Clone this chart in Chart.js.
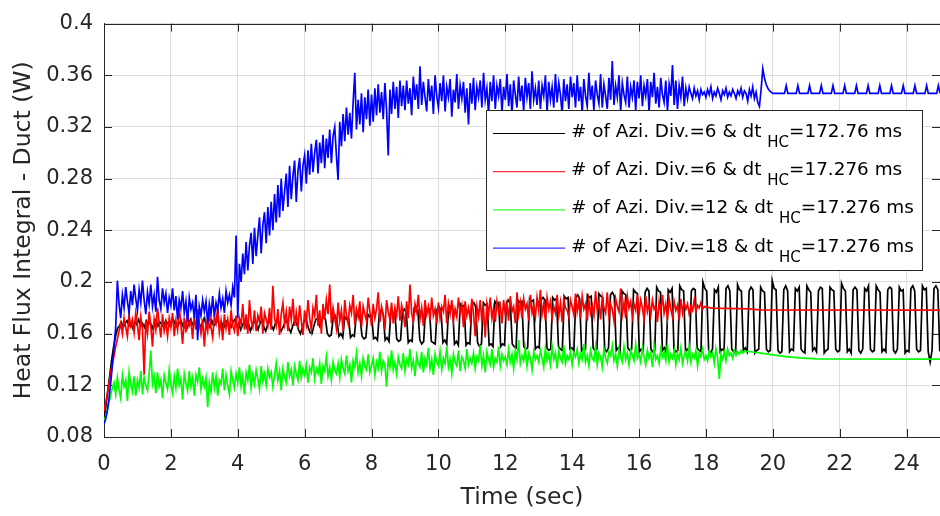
<!DOCTYPE html>
<html>
<head>
<meta charset="utf-8">
<script src="https://cdn.jsdelivr.net/npm/chart.js@4/dist/chart.umd.min.js"></script>
<style>
  html, body { margin: 0; padding: 0; background: #fff; }
  canvas { display: block; }
</style>
</head>
<body>
<canvas id="flux" width="940" height="516"></canvas>
<script>
// Sampling intervals of the recorded signals (s)
const stepCoarseHC = 0.0575867;  // one third of the 172.76 ms coupling interval
const stepFineHC = 0.05;

// Heat flux integral on the duct (W), 6 azimuthal divisions, dt_HC = 172.76 ms
const fluxDiv6Coarse = [
  .093,.104,.116,.128,.140,.150,.158,.164,
  .166,.169,.165,.168,.170,.166,.168,.164,.169,.167,
  .171,.166,.168,.165,.170,.167,.169,.164,.168,.171,
  .166,.169,.167,.165,.170,.168,.166,.169,.171,.167,
  .165,.168,.170,.166,.169,.164,.168,.171,.167,.169,
  .166,.170,.165,.168,.172,.167,.169,.165,.170,.166,
  .168,.171,.166,.169,.164,.168,.170,.167,.165,.169,
  .171,.166,.168,.163,.167,.170,.165,.168,.162,.166,
  .170,.167,.163,.168,.171,.165,.162,.167,.170,.166,
  .163,.168,.171,.166,.162,.165,.169,.170,.164,.161,
  .166,.170,.168,.163,.160,.165,.170,.171,.165,.161,
  .160,.166,.171,.172,.166,
  .170,.173,.171,.160,.158,.159, .172,.174,.170,.158,.160,.157,
  .173,.171,.172,.157,.159,.158, .174,.176,.172,.158,.156,.157,
  .175,.173,.174,.156,.157,.155, .176,.178,.175,.155,.157,.154,
  .178,.176,.177,.156,.154,.155, .177,.179,.176,.153,.155,.154,
  .179,.177,.178,.155,.152,.154, .180,.178,.179,.154,.153,.152,
  .179,.181,.178,.153,.155,.152, .182,.180,.181,.152,.154,.151,
  .183,.181,.182,.151,.153,.152, .182,.184,.181,.153,.150,.152,
  .184,.182,.183,.151,.152,.150, .185,.183,.184,.150,.152,.151,
  .184,.186,.183,.152,.150,.149, .186,.184,.185,.150,.148,.149,
  .187,.185,.186,.148,.150,.149, .186,.188,.186,.149,.147,.148,
  .188,.186,.187,.150,.148,.147, .189,.187,.188,.148,.149,.147,
  .188,.190,.187,.147,.149,.148, .190,.188,.189,.149,.147,.148,
  .191,.189,.188,.148,.146,.149, .190,.192,.189,.147,.149,.146,
  .193,.191,.190,.149,.147,.148, .194,.192,.191,.146,.148,.147,
  .192,.195,.193,.148,.146,.147, .196,.193,.192,.147,.149,.145,
  .194,.192,.195,.148,.146,.147, .197,.194,.193,.146,.148,.147,
  .193,.195,.194,.149,.147,.146, .200,.195,.193,.147,.145,.148,
  .194,.192,.196,.146,.148,.147, .195,.197,.193,.148,.146,.145,
  .198,.194,.193,.147,.149,.146, .193,.196,.194,.145,.147,.148,
  .196,.193,.192,.148,.146,.147, .201,.195,.194,.147,.145,.146,
  .194,.197,.193,.146,.148,.147, .195,.193,.196,.148,.146,.145,
  .197,.194,.192,.147,.149,.146, .193,.196,.195,.145,.147,.148,
  .196,.194,.193,.148,.146,.147, .199,.195,.193,.146,.148,.145,
  .194,.196,.194,.147,.145,.148, .195,.193,.197,.148,.146,.147,
  .197,.194,.192,.146,.148,.146, .194,.196,.195,.147,.145,.148,
  .196,.193,.194,.145,.147,.146, .195,.197,.193,.148,.146,.147,
  .197,.194,.195,.146,.138,.147,
  .195,.197,.194,.147,.146
];

// 6 azimuthal divisions, dt_HC = 17.276 ms: fluctuating phase, then settled values [t, W]
const fluxDiv6Fine = [
  .100,.106,.114,.122,.130,.137,.143,.150,.156,.162,.168,.160,.172,.165,.158,.174,.166,.171,.161,.176,
  .167,.155,.173,.164,.128,.170,.160,.177,.166,.150,.171,.163,.180,.168,.157,.175,.162,.169,.158,.172,
  .165,.176,.158,.170,.163,.181,.167,.152,.172,.161,.177,.166,.170,.156,.174,.163,.179,.168,.160,.171,
  .150,.169,.162,.177,.165,.157,.173,.168,.180,.161,.170,.155,.175,.164,.171,.159,.178,.166,.162,.174,
  .158,.172,.167,.183,.163,.175,.160,.186,.170,.165,.178,.162,.174,.169,.181,.160,.176,.171,.166,.180,
  .163,.197,.172,.166,.179,.159,.175,.184,.168,.177,.162,.181,.171,.187,.166,.176,.164,.182,.170,.159,
  .178,.168,.186,.172,.163,.180,.174,.190,.166,.178,.160,.183,.171,.186,.175,.198,.168,.180,.172,.164,
  .184,.170,.178,.162,.186,.174,.168,.182,.176,.190,.167,.179,.173,.185,.165,.181,.175,.170,.188,.177,
  .166,.183,.172,.179,.192,.169,.181,.175,.163,.186,.177,.171,.184,.168,.180,.174,.189,.170,.182,.176,
  .165,.185,.172,.198,.176,.169,.183,.177,.190,.171,.180,.166,.186,.175,.181,.170,.188,.174,.179,.168,
  .184,.172,.181,.177,.190,.168,.183,.175,.186,.170,.179,.173,.188,.176,.182,.165,.185,.174,.180,.171,
  .187,.176,.158,.181,.173,.186,.170,.179,.157,.183,.175,.188,.172,.180,.169,.185,.177,.182,.168,.186,
  .174,.183,.170,.189,.177,.181,.168,.192,.175,.184,.172,.187,.179,.183,.170,.190,.176,.182,.173,.188,
  .178,.194,.175,.183,.170,.188,.179,.185,.172,.181,.176,.190,.174,.184,.169,.187,.180,.178,.173,.186,
  .181,.175,.191,.177,.185,.172,.189,.179,.183,.170,.186,.176,.182,.174,.193,.178,.184,.171,.188,.180,
  .176,.192,.174,.183,.179,.170,.187,.181,.177,.195,.175,.184,.172,.189,.180,.185,.173,.183,.178,.190,
  .175,.186,.180,.171,.189,.177,.183,.174,.186,.179,.182,.169,.185,.177,.190,.176,.183,.172,.187,.179,
  .173,.185,.178,.182,.170,.187,.176,.184,.179,.183,.175,.181,.178,.186,.177,.182,.180,.184,.179,.181
];
const fluxDiv6FineSettled = [[18.0, .1805], [18.2, .1797], [19.3, .1792], [19.6, .1784], [25.05, .1782]];

// 12 azimuthal divisions, dt_HC = 17.276 ms
const fluxDiv12Fine = [
  .092,.096,.101,.107,.112,.118,.122,.113,.126,.117,.110,.128,.119,.124,.108,.130,.121,.115,.127,.112,
  .124,.118,.131,.113,.126,.120,.116,.129,.147,.121,.127,.114,.130,.119,.124,.110,.128,.122,.117,.132,
  .121,.114,.127,.118,.133,.120,.125,.109,.129,.122,.116,.131,.119,.126,.112,.128,.123,.134,.117,.125,
  .119,.126,.103,.122,.115,.130,.118,.127,.112,.124,.121,.133,.116,.128,.120,.113,.131,.124,.118,.129,
  .122,.134,.119,.127,.113,.130,.124,.136,.118,.128,.121,.132,.125,.117,.135,.123,.129,.120,.133,.126,
  .130,.119,.128,.137,.124,.131,.116,.133,.126,.122,.138,.127,.132,.120,.135,.129,.124,.139,.126,.133,
  .128,.136,.122,.134,.130,.141,.125,.133,.129,.137,.121,.135,.131,.142,.127,.134,.124,.138,.132,.129,
  .137,.126,.140,.133,.129,.143,.131,.136,.122,.139,.134,.145,.130,.137,.127,.141,.135,.132,.144,.130,
  .135,.141,.128,.138,.133,.146,.131,.139,.136,.119,.140,.134,.147,.132,.138,.129,.142,.136,.133,.145,
  .131,.140,.136,.148,.133,.139,.127,.143,.137,.134,.146,.130,.141,.136,.149,.133,.140,.128,.144,.138,
  .135,.146,.132,.141,.137,.150,.134,.140,.129,.144,.138,.135,.147,.131,.142,.139,.133,.148,.136,.141,
  .137,.145,.133,.142,.139,.151,.135,.143,.130,.146,.140,.136,.148,.134,.141,.138,.150,.135,.144,.139,
  .142,.136,.148,.138,.144,.133,.147,.140,.155,.137,.143,.139,.149,.135,.145,.141,.132,.146,.140,.143,
  .138,.147,.141,.134,.149,.139,.144,.136,.150,.140,.145,.133,.147,.141,.138,.151,.137,.143,.140,.146,
  .136,.145,.142,.148,.137,.144,.140,.152,.138,.143,.135,.147,.141,.139,.150,.136,.145,.142,.134,.148,
  .141,.137,.146,.143,.151,.139,.144,.135,.148,.142,.138,.150,.140,.145,.136,.147,.143,.139,.152,.141,
  .144,.138,.149,.142,.136,.147,.141,.145,.134,.150,.140,.143,.137,.148,.142,.146,.139,.151,.138,.144,
  .141,.147,.136,.145,.140,.149,.137,.143,.146,.139,.150,.138,.144,.141,.147,.135,.145,.142,.148,.140,
  .143,.139,.147,.142,.145,.137,.148,.141,.125,.144,.140,.146,.139,.148,.143,.145,.141,.147,.143,.146,
  .144,.147,.145
];
const fluxDiv12FineSettled = [[19.15, .1465], [19.4, .1458], [19.7, .1448], [20.0, .1436], [20.4, .1422], [20.8, .1412], [21.3, .1405], [25.05, .1403]];

// 18 azimuthal divisions, dt_HC = 17.276 ms
const fluxDiv18Fine = [
  .090,.094,.100,.110,.122,.135,.150,.165,.201,.183,.172,.190,.180,.196,.185,.176,.193,.182,.198,.187,
  .178,.194,.184,.201,.186,.175,.192,.183,.198,.181,.190,.177,.204,.186,.179,.195,.184,.191,.176,.188,
  .182,.195,.178,.189,.171,.186,.180,.193,.176,.185,.169,.188,.179,.184,.172,.190,.155,.181,.174,.186,
  .177,.185,.168,.183,.175,.189,.173,.184,.178,.191,.180,.187,.176,.193,.184,.190,.182,.196,.188,.236,
  .172,.214,.200,.222,.206,.231,.209,.228,.238,.214,.242,.220,.236,.250,.222,.244,.254,.230,.258,.236,
  .262,.240,.268,.246,.275,.250,.280,.255,.270,.284,.258,.290,.264,.282,.294,.262,.286,.296,.270,.290,
  .298,.276,.302,.283,.307,.285,.300,.310,.284,.308,.292,.314,.288,.311,.296,.318,.292,.313,.320,.298,
  .279,.324,.305,.330,.309,.335,.314,.331,.311,.339,.362,.318,.341,.322,.346,.316,.343,.326,.349,.321,
  .345,.324,.350,.329,.353,.331,.347,.326,.354,.333,.298,.349,.330,.355,.334,.351,.327,.356,.336,.352,
  .333,.356,.338,.350,.329,.359,.341,.353,.334,.367,.337,.355,.343,.332,.357,.340,.352,.330,.360,.344,
  .335,.354,.340,.360,.332,.351,.343,.357,.328,.349,.339,.361,.334,.352,.342,.355,.331,.350,.322,.354,
  .338,.358,.333,.351,.343,.356,.335,.362,.341,.350,.330,.355,.340,.360,.334,.352,.344,.357,.331,.351,
  .341,.361,.336,.353,.329,.356,.345,.335,.359,.340,.352,.332,.358,.343,.354,.334,.363,.341,.350,.337,
  .356,.334,.352,.344,.360,.331,.355,.341,.351,.335,.361,.339,.354,.345,.330,.357,.340,.353,.334,.359,
  .343,.354,.335,.360,.340,.351,.331,.357,.344,.336,.362,.341,.352,.333,.356,.345,.338,.361,.335,.353,
  .344,.334,.358,.341,.371,.337,.352,.343,.360,.332,.354,.345,.339,.359,.335,.351,.343,.356,.333,.355,
  .342,.360,.336,.352,.344,.357,.331,.355,.343,.362,.338,.351,.335,.358,.345,.339,.356,.332,.353,.344,
  .368,.337,.356,.334,.352,.343,.359,.336,.350,.342,.351,.346,.342,.350,.344,.348,.341,.349,.345,.347,
  .343,.349,.345,.351,.342,.347,.344,.350,.346,.341,.348,.345,.350,.343,.347,.344,.349,.346,.342,.348,
  .345,.350,.343,.348,.346,.340,.349,.344,.351,.342,.347,.339,.336,.349,.365,.358,.353,.350,.348,.347,
  .346,.346,.346,.346,.346,.346,.346,.346,.352,.346,.346,.346,.346,.346,.346,.352,.346,.346,.346,.346,
  .346,.346,.352,.346,.346,.346,.346,.346,.346,.352,.346,.346,.346,.346,.346,.346,.352,.346,.346,.346,
  .346,.346,.346,.352,.346,.346,.346,.346,.346,.346,.352,.346,.346,.346,.346,.346,.346,.352,.346,.346,
  .346,.346,.346,.346,.352,.346,.346,.346,.346,.346,.346,.352,.346,.346,.346,.346,.346,.346,.352,.346,
  .346,.346,.346,.346,.346,.352,.346,.346,.346,.346,.346,.346,.352,.346,.346,.346,.346,.346,.346,.352,
  .346
];

// Axis ticks
const xTickValues = [0, 2, 4, 6, 8, 10, 12, 14, 16, 18, 20, 22, 24];
const xTickLabels = ['0', '2', '4', '6', '8', '10', '12', '14', '16', '18', '20', '22', '24'];
const yTickValues = [0.08, 0.12, 0.16, 0.2, 0.24, 0.28, 0.32, 0.36, 0.4];
const yTickLabels = ['0.08', '0.12', '0.16', '0.2', '0.24', '0.28', '0.32', '0.36', '0.4'];

// Legend entries: azimuthal divisions and heat-coupling time step
const seriesDivisions = ['6', '6', '12', '18'];
const seriesTimeSteps = ['172.76', '17.276', '17.276', '17.276'];
const seriesColors = ['#000000', '#ff0000', '#00ff00', '#0000ff'];

const FONT = 'DejaVu Sans';
const AXIS_INK = '#262626';

function toPoints(values, step) {
  return values.map((v, i) => ({ x: +(i * step).toFixed(5), y: v }));
}
function pairsToPoints(pairs) {
  return pairs.map(([t, v]) => ({ x: t, y: v }));
}

// Inward tick marks on all four sides plus the top edge of the box
const axesFrame = {
  id: 'axesFrame',
  beforeDatasetsDraw(chart) {
    const { ctx, chartArea: a, scales: { x, y } } = chart;
    ctx.save();
    ctx.strokeStyle = AXIS_INK;
    ctx.lineWidth = 1;
    ctx.beginPath();
    ctx.moveTo(a.left, Math.round(a.top) + 0.5);
    ctx.lineTo(a.right, Math.round(a.top) + 0.5);
    x.ticks.forEach(t => {
      const px = Math.round(x.getPixelForValue(t.value)) + 0.5;
      ctx.moveTo(px, a.bottom); ctx.lineTo(px, a.bottom - 8);
      ctx.moveTo(px, a.top); ctx.lineTo(px, a.top + 8);
    });
    y.ticks.forEach(t => {
      const py = Math.round(y.getPixelForValue(t.value)) + 0.5;
      ctx.moveTo(a.left, py); ctx.lineTo(a.left + 8, py);
      ctx.moveTo(a.right, py); ctx.lineTo(a.right - 8, py);
    });
    ctx.stroke();
    ctx.restore();
  }
};

// Boxed legend with subscripted "HC"
const seriesKey = {
  id: 'seriesKey',
  afterDatasetsDraw(chart) {
    const ctx = chart.ctx;
    const box = { x: 486.5, y: 110.5, w: 436, h: 160 };
    ctx.save();
    ctx.fillStyle = '#ffffff';
    ctx.fillRect(box.x, box.y, box.w, box.h);
    ctx.strokeStyle = AXIS_INK;
    ctx.lineWidth = 1;
    ctx.strokeRect(box.x, box.y, box.w, box.h);
    const mainFont = '18.4px "' + FONT + '"';
    const subFont = '15px "' + FONT + '"';
    ctx.textBaseline = 'alphabetic';
    ctx.textAlign = 'left';
    seriesDivisions.forEach((div, i) => {
      const rowY = 133.5 + i * 38.2;
      ctx.strokeStyle = seriesColors[i];
      ctx.lineWidth = 1;
      ctx.beginPath();
      ctx.moveTo(493, rowY);
      ctx.lineTo(565, rowY);
      ctx.stroke();
      ctx.fillStyle = '#000000';
      let tx = 571;
      const base = rowY + 3.5;
      const head = '# of Azi. Div.=' + div + ' & dt ';
      ctx.font = mainFont;
      ctx.fillText(head, tx, base);
      tx += ctx.measureText(head).width;
      ctx.font = subFont;
      ctx.fillText('HC', tx, base + 10);
      tx += ctx.measureText('HC').width;
      ctx.font = mainFont;
      ctx.fillText('=' + seriesTimeSteps[i] + ' ms', tx, base);
    });
    ctx.restore();
  }
};

const lineStyle = { pointRadius: 0, borderWidth: 1.7, tension: 0, fill: false };

new Chart(document.getElementById('flux'), {
  type: 'line',
  data: {
    datasets: [
      { label: 'Div6 coarse', data: toPoints(fluxDiv6Coarse, stepCoarseHC),
        borderColor: seriesColors[0], order: 3, ...lineStyle },
      { label: 'Div6 fine', data: toPoints(fluxDiv6Fine, stepFineHC).concat(pairsToPoints(fluxDiv6FineSettled)),
        borderColor: seriesColors[1], order: 2, ...lineStyle },
      { label: 'Div12 fine', data: toPoints(fluxDiv12Fine, stepFineHC).concat(pairsToPoints(fluxDiv12FineSettled)),
        borderColor: seriesColors[2], order: 1, ...lineStyle },
      { label: 'Div18 fine', data: toPoints(fluxDiv18Fine, stepFineHC),
        borderColor: seriesColors[3], order: 0, ...lineStyle }
    ]
  },
  options: {
    responsive: false,
    animation: false,
    devicePixelRatio: 1,
    layout: { padding: { top: 13, right: 0, bottom: 0, left: 0 } },
    plugins: { legend: { display: false }, tooltip: { enabled: false } },
    scales: {
      x: {
        type: 'linear',
        min: 0,
        max: 25,
        afterFit: s => { s.height = 79; },
        afterBuildTicks: s => { s.ticks = xTickValues.map(v => ({ value: v })); },
        ticks: {
          autoSkip: false, maxRotation: 0, padding: 15, color: AXIS_INK,
          font: { family: FONT, size: 21 },
          callback: (v, i) => xTickLabels[i]
        },
        grid: { color: '#dedede', drawTicks: false },
        border: { color: AXIS_INK, width: 1 },
        title: {
          display: true, text: 'Time (sec)', color: AXIS_INK,
          font: { family: FONT, size: 23.5 }, padding: { top: 0, bottom: 4 }
        }
      },
      y: {
        type: 'linear',
        min: 0.08,
        max: 0.4,
        afterFit: s => { s.width = 104; },
        afterBuildTicks: s => { s.ticks = yTickValues.map(v => ({ value: v })); },
        ticks: {
          padding: 11, color: AXIS_INK,
          font: { family: FONT, size: 21 },
          callback: (v, i) => yTickLabels[i]
        },
        grid: { color: '#dedede', drawTicks: false },
        border: { color: AXIS_INK, width: 1 },
        title: {
          display: true, text: 'Heat Flux Integral - Duct (W)', color: AXIS_INK,
          font: { family: FONT, size: 23.5 }, padding: { top: 10, bottom: 0 }
        }
      }
    }
  },
  plugins: [axesFrame, seriesKey]
});
</script>
</body>
</html>
